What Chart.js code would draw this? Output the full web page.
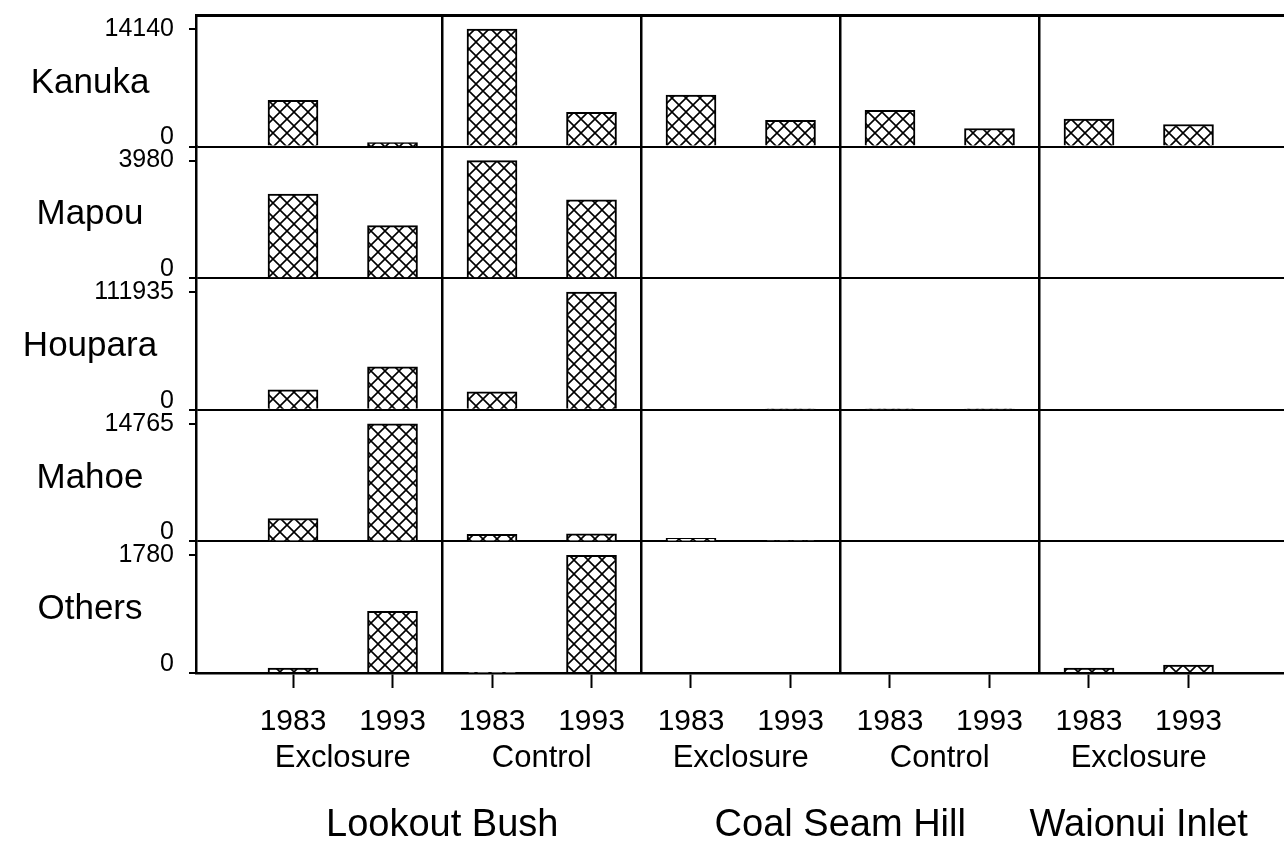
<!DOCTYPE html>
<html>
<head>
<meta charset="utf-8">
<title>Seedling counts by species</title>
<script src="https://cdn.jsdelivr.net/npm/chart.js@4.4.1/dist/chart.umd.min.js"></script>
<style>
    html, body { margin: 0; padding: 0; background: #fff; }
    #wrap { width: 1284px; height: 853px; }
</style>
</head>
<body>
<div id="wrap"><canvas id="chart" width="1284" height="853"></canvas></div>
<script>
// rows, top to bottom
const species = ['Kanuka', 'Mapou', 'Houpara', 'Mahoe', 'Others'];
const rowTopTicks = [14140, 3980, 111935, 14765, 1780];

// columns, left to right
const years = ['1983', '1993', '1983', '1993', '1983', '1993', '1983', '1993', '1983', '1993'];
const treatments = ['Exclosure', 'Control', 'Exclosure', 'Control', 'Exclosure'];
const sites = ['Lookout Bush', 'Coal Seam Hill', 'Waionui Inlet'];
const treatmentsPerSite = [2, 2, 1];

const kanuka = [5560, 480, 14140, 4110, 6200, 3150, 4350, 2180, 3320, 2660];
const mapou = [2850, 1780, 3980, 2650, 0, 0, 0, 0, 0, 0];
const houpara = [18970, 40790, 17080, 111935, 0, 700, 700, 700, 0, 0];
const mahoe = [2880, 14765, 880, 960, 380, 120, 0, 0, 0, 0];
const others = [75, 935, 10, 1780, 0, 0, 0, 0, 75, 120];

const seriesBySpecies = [kanuka, mapou, houpara, mahoe, others];

// layout of the x axis (in category units)
const xMin = -0.975;
const xMax = 9.96;
const headroom = 1.119;
const fontFamily = '"Liberation Sans", Arial, Helvetica, sans-serif';

Chart.defaults.font.family = fontFamily;
Chart.defaults.color = '#000';

function initChart() {
    const canvas = document.getElementById('chart');
    const ctx = canvas.getContext('2d');

    const makeHatch = () => {
        const s = 14;
        const tile = document.createElement('canvas');
        tile.width = s;
        tile.height = s;
        const g = tile.getContext('2d');
        g.fillStyle = '#fff';
        g.fillRect(0, 0, s, s);
        g.strokeStyle = '#000';
        g.lineWidth = 1.6;
        for (const dx of [-s, 0, s]) {
            g.beginPath();
            g.moveTo(dx, 0);
            g.lineTo(dx + s, s);
            g.moveTo(dx + s, 0);
            g.lineTo(dx, s);
            g.stroke();
        }
        return ctx.createPattern(tile, 'repeat');
    };
    const hatch = makeHatch();

    const treatmentCenters = treatments.map((_, t) => t * 2 + 0.5);
    const dividers = treatments.slice(1).map((_, t) => t * 2 + 1.5);
    const siteCenters = [];
    let first = 0;
    treatmentsPerSite.forEach((count) => {
        const last = first + count * 2 - 1;
        siteCenters.push((first + last) / 2);
        first = last + 1;
    });

    const noPadding = (scale) => {
        scale.paddingTop = 0;
        scale.paddingBottom = 0;
        scale.paddingLeft = 0;
        scale.paddingRight = 0;
    };

    const rowScale = (k) => ({
        type: 'linear',
        position: 'left',
        stack: 'rows',
        stackWeight: 1,
        weight: species.length - k,
        offset: false,
        min: 0,
        max: rowTopTicks[k] * headroom,
        afterBuildTicks: (scale) => {
            scale.ticks = [{ value: 0 }, { value: rowTopTicks[k] }];
        },
        afterFit: (scale) => {
            scale.width = 196;
            noPadding(scale);
        },
        ticks: {
            autoSkip: false,
            padding: 15,
            color: '#000',
            font: { size: 25, lineHeight: 0.72 },
            callback: (value) => (value === 0 ? ['0', ''] : String(value)),
        },
        grid: {
            drawOnChartArea: true,
            drawTicks: true,
            tickLength: 7,
            tickWidth: 2,
            tickColor: '#000',
            lineWidth: 2,
            color: (context) => (context.tick && context.tick.value === 0 ? '#000' : 'rgba(0,0,0,0)'),
        },
        border: { display: true, color: '#000', width: 2.5 },
    });

    const xBase = (weight, position) => ({
        type: 'linear',
        position,
        weight,
        offset: false,
        min: xMin,
        max: xMax,
    });

    const scales = {
        x: {
            ...xBase(0, 'bottom'),
            afterBuildTicks: (scale) => {
                scale.ticks = years.map((_, i) => ({ value: i }));
            },
            afterFit: (scale) => {
                scale.height = 58;
                noPadding(scale);
            },
            ticks: {
                autoSkip: false,
                maxRotation: 0,
                padding: 16,
                color: '#000',
                font: { size: 30 },
                callback: (value, index) => years[index],
            },
            grid: {
                offset: false,
                drawOnChartArea: false,
                drawTicks: true,
                tickLength: 15,
                tickWidth: 2,
                tickColor: '#000',
                color: '#000',
            },
            border: { display: true, color: '#000', width: 2.5 },
        },
        xGroup: {
            ...xBase(1, 'bottom'),
            afterBuildTicks: (scale) => {
                scale.ticks = treatmentCenters.map((v) => ({ value: v }));
            },
            afterFit: (scale) => {
                scale.height = 40;
                noPadding(scale);
            },
            ticks: {
                autoSkip: false,
                maxRotation: 0,
                padding: 9,
                color: '#000',
                font: { size: 31 },
                callback: (value, index) => treatments[index],
            },
            grid: { display: false, drawTicks: false, offset: false },
            border: { display: false },
        },
        xSite: {
            ...xBase(2, 'bottom'),
            afterBuildTicks: (scale) => {
                scale.ticks = siteCenters.map((v) => ({ value: v }));
            },
            afterFit: (scale) => {
                scale.height = 82;
                noPadding(scale);
            },
            ticks: {
                autoSkip: false,
                maxRotation: 0,
                padding: 32,
                color: '#000',
                font: { size: 38 },
                callback: (value, index) => sites[index],
            },
            grid: { display: false, drawTicks: false, offset: false },
            border: { display: false },
        },
        xTop: {
            ...xBase(0, 'top'),
            afterBuildTicks: (scale) => {
                scale.ticks = dividers.map((v) => ({ value: v }));
            },
            afterFit: (scale) => {
                scale.height = 15;
                noPadding(scale);
            },
            ticks: { display: false },
            grid: {
                display: true,
                offset: false,
                drawOnChartArea: true,
                drawTicks: false,
                color: '#000',
                lineWidth: 2.5,
            },
            border: { display: true, color: '#000', width: 3 },
        },
    };
    species.forEach((_, k) => {
        scales['y' + k] = rowScale(k);
    });

    const rowNames = {
        id: 'rowNames',
        afterDraw: (chart) => {
            const c = chart.ctx;
            c.save();
            c.font = `35px ${fontFamily}`;
            c.fillStyle = '#000';
            c.textAlign = 'center';
            c.textBaseline = 'middle';
            species.forEach((name, k) => {
                const scale = chart.scales['y' + k];
                c.fillText(name, 90, scale.getPixelForValue(rowTopTicks[k] * 0.54));
            });
            c.restore();
        },
    };

    new Chart(canvas, {
        type: 'bar',
        data: {
            datasets: species.map((name, k) => ({
                label: name,
                xAxisID: 'x',
                yAxisID: 'y' + k,
                data: seriesBySpecies[k].map((v, i) => ({ x: i, y: v })),
                backgroundColor: hatch,
                borderColor: '#000',
                borderWidth: 2,
                barThickness: 50,
                grouped: false,
            })),
        },
        options: {
            responsive: false,
            animation: false,
            layout: { padding: 0 },
            plugins: {
                legend: { display: false },
                tooltip: { enabled: false },
            },
            scales,
        },
        plugins: [rowNames],
    });
}

initChart();
</script>
</body>
</html>
